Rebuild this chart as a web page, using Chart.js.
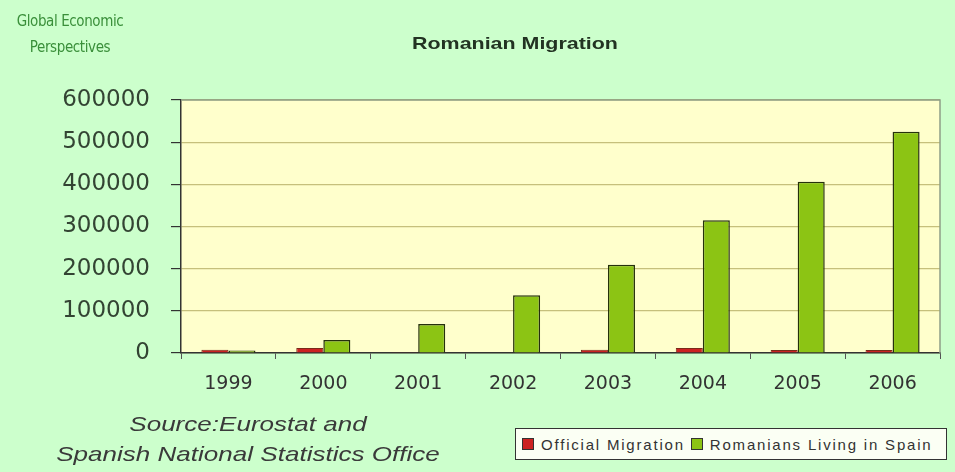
<!DOCTYPE html>
<html>
<head>
<meta charset="utf-8">
<script src="https://cdn.jsdelivr.net/npm/chart.js@4/dist/chart.umd.min.js"></script>
<style>
  html, body { margin: 0; padding: 0; background: #ccffcc; }
  #wrap { position: relative; width: 955px; height: 472px; overflow: hidden; background: #ccffcc; }
  canvas { position: absolute; left: 0; top: 0; }
  .txt { position: absolute; white-space: nowrap; }
  #gep { left: 0; width: 140px; text-align: center; top: 8px; font-family: "Liberation Sans Narrow", "DejaVu Sans Condensed", "Liberation Sans", Arial, sans-serif; font-size: 15px; line-height: 26px; color: #3a8f3a; letter-spacing: -0.4px; }
  #title { left: 315px; width: 400px; text-align: center; top: 34px; font-family: "Liberation Sans", Arial, sans-serif; font-weight: bold; font-size: 17px; color: #223322; transform: scaleX(1.26); transform-origin: 200px 50%; }
  #source { left: 48px; width: 400px; text-align: center; top: 409px; font-family: "Liberation Sans", Arial, sans-serif; font-style: italic; font-size: 21px; line-height: 30px; color: #3a3a3a; transform: scaleX(1.24); transform-origin: 200px 50%; }
  #legend { position: absolute; left: 515px; top: 428px; width: 432px; height: 32px; border: 1.5px solid #333; background: #fbfff4; box-sizing: border-box; display: flex; align-items: center; padding-left: 6px; font-family: "Liberation Sans", Arial, sans-serif; font-size: 15px; color: #333; letter-spacing: 1.8px; }
  .item { display: flex; align-items: center; margin-right: 6px; }
  .sw { width: 12px; height: 12px; margin-right: 7px; box-sizing: border-box; border: 1px solid #333; }
</style>
</head>
<body>
<div id="wrap">
  <canvas id="c" width="955" height="472"></canvas>
  <div id="gep" class="txt">Global Economic<br>Perspectives</div>
  <div id="title" class="txt">Romanian Migration</div>
  <div id="source" class="txt">Source:Eurostat and<br>Spanish National Statistics Office</div>
  <div id="legend"></div>
</div>
<script>
const categories = ['1999', '2000', '2001', '2002', '2003', '2004', '2005', '2006'];
const officialMigration = [8000, 12000, 2000, 0, 8000, 12000, 7000, 7000];
const romaniansInSpain = [6000, 31000, 69000, 137000, 209000, 315000, 406000, 525000];
const yTicks = [0, 100000, 200000, 300000, 400000, 500000, 600000];

const plotBg = {
  id: 'plotBg',
  beforeDraw(chart) {
    const a = chart.chartArea, ctx = chart.ctx;
    ctx.save();
    ctx.fillStyle = '#ffffcc';
    ctx.fillRect(a.left, a.top, a.right - a.left, a.bottom - a.top);
    ctx.restore();
  },
  afterDraw(chart) {
    const a = chart.chartArea, ctx = chart.ctx;
    ctx.save();
    ctx.strokeStyle = '#8f9f86';
    ctx.lineWidth = 1.5;
    ctx.beginPath();
    ctx.moveTo(a.left, a.top);
    ctx.lineTo(a.right, a.top);
    ctx.lineTo(a.right, a.bottom);
    ctx.stroke();
    ctx.restore();
  }
};

const chart = new Chart(document.getElementById('c'), {
  type: 'bar',
  data: {
    labels: categories,
    datasets: [
      { label: 'Official Migration', data: officialMigration, backgroundColor: '#cc2222', borderColor: '#7a2a1a', borderWidth: 1 },
      { label: 'Romanians Living in Spain', data: romaniansInSpain, backgroundColor: '#8cc414', borderColor: '#25300c', borderWidth: 1.5 }
    ]
  },
  options: {
    responsive: false,
    animation: false,
    layout: { padding: { top: 100, right: 15, bottom: 0, left: 0 } },
    datasets: { bar: { categoryPercentage: 0.57, barPercentage: 1.0 } },
    plugins: { legend: { display: false }, tooltip: { enabled: false }, title: { display: false } },
    scales: {
      x: {
        afterFit(s) { s.height = 119; },
        grid: { display: true, drawOnChartArea: false, tickLength: 6, tickColor: '#555', color: '#555', offset: true },
        border: { display: true, color: '#333', width: 1.5 },
        ticks: { color: '#333', padding: 14, font: { family: '"DejaVu Sans", sans-serif', size: 19 } }
      },
      y: {
        min: 0, max: 600000,
        afterFit(s) { s.width = 181; },
        afterBuildTicks(s) { s.ticks = yTicks.map(v => ({ value: v })); },
        grid: { color: 'rgba(160,150,70,0.6)', lineWidth: 1.2, tickLength: 10, tickColor: '#333' },
        border: { display: true, color: '#333', width: 1.5 },
        ticks: { color: '#334433', padding: 21, font: { family: '"DejaVu Sans", sans-serif', size: 23 }, callback: v => String(v) }
      }
    }
  },
  plugins: [plotBg]
});

const lg = document.getElementById('legend');
chart.data.datasets.forEach(ds => {
  const it = document.createElement('div');
  it.className = 'item';
  const sw = document.createElement('span');
  sw.className = 'sw';
  sw.style.background = ds.backgroundColor;
  const t = document.createElement('span');
  t.textContent = ds.label;
  it.appendChild(sw); it.appendChild(t);
  lg.appendChild(it);
});
</script>
</body>
</html>
